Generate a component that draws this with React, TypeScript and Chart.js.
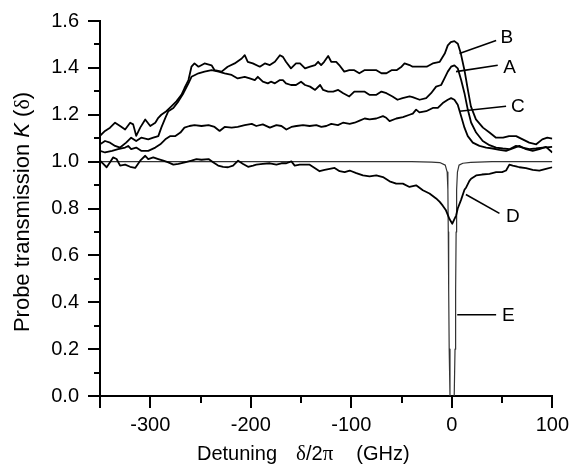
import React, { useEffect, useRef } from 'react';
import { Chart, registerables } from 'chart.js';

Chart.register(...registerables);

// ---- Curve B ----
const B_X = [-350, -345, -340, -335, -330, -325, -320, -317, -314, -310, -305, -300, -295, -292, -289, -284, -279, -274, -269, -266, -262, -259, -256, -252, -246, -239, -236, -229, -223, -216, -209, -206, -203, -198, -191, -186, -181, -176, -171, -168, -165, -160, -155, -151, -146, -141, -136, -133, -130, -127, -123, -120, -115, -112, -107, -102, -97, -92, -87, -82, -75, -70, -65, -60, -55, -50, -47, -42, -39, -32, -25, -19, -12, -7, -4, -1, 2.6, 6, 9, 12.6, 16, 19, 24, 31, 37.5, 44, 51, 57, 64, 70.5, 77, 84, 90, 95, 100];
const B_Y = [1.11, 1.131, 1.145, 1.166, 1.152, 1.137, 1.166, 1.159, 1.11, 1.145, 1.18, 1.152, 1.166, 1.187, 1.2, 1.215, 1.236, 1.257, 1.285, 1.313, 1.348, 1.405, 1.419, 1.405, 1.419, 1.411, 1.39, 1.384, 1.405, 1.419, 1.44, 1.454, 1.426, 1.419, 1.405, 1.419, 1.412, 1.426, 1.454, 1.447, 1.426, 1.398, 1.419, 1.419, 1.398, 1.405, 1.412, 1.426, 1.412, 1.426, 1.451, 1.426, 1.426, 1.412, 1.384, 1.39, 1.39, 1.377, 1.39, 1.39, 1.39, 1.377, 1.377, 1.39, 1.39, 1.405, 1.419, 1.412, 1.405, 1.405, 1.405, 1.419, 1.426, 1.461, 1.496, 1.51, 1.514, 1.503, 1.461, 1.39, 1.306, 1.236, 1.18, 1.145, 1.124, 1.102, 1.102, 1.109, 1.109, 1.095, 1.081, 1.074, 1.095, 1.102, 1.098];

// ---- Curve A ----
const A_X = [-350, -345, -340, -335, -330, -324, -319, -314, -309, -302, -297, -292, -289, -285, -282, -277, -272, -267, -262, -259, -252, -246, -239, -232, -226, -219, -213, -206, -201, -196, -193, -188, -183, -180, -176, -171, -168, -165, -160, -155, -150, -146, -141, -136, -131, -128, -123, -118, -113, -108, -102, -97, -92, -87, -82, -75, -70, -65, -59, -54, -49, -42, -39, -32, -25.5, -20.6, -15.6, -10.6, -7.3, -4, -0.7, 2.6, 5.9, 9.3, 12.6, 15.9, 19.2, 24.2, 30.8, 37.5, 44.1, 50.7, 57.3, 63.9, 70.5, 77.2, 83.8, 90.4, 100];
const A_Y = [1.074, 1.088, 1.081, 1.067, 1.06, 1.081, 1.102, 1.088, 1.102, 1.095, 1.102, 1.109, 1.145, 1.187, 1.215, 1.229, 1.257, 1.292, 1.334, 1.362, 1.377, 1.384, 1.39, 1.384, 1.377, 1.37, 1.355, 1.362, 1.355, 1.348, 1.362, 1.341, 1.334, 1.341, 1.334, 1.348, 1.348, 1.334, 1.327, 1.327, 1.341, 1.327, 1.32, 1.306, 1.327, 1.306, 1.299, 1.299, 1.306, 1.292, 1.278, 1.299, 1.299, 1.299, 1.285, 1.285, 1.299, 1.292, 1.278, 1.264, 1.271, 1.278, 1.275, 1.264, 1.271, 1.292, 1.32, 1.327, 1.355, 1.384, 1.405, 1.411, 1.398, 1.348, 1.292, 1.222, 1.167, 1.124, 1.088, 1.07, 1.06, 1.056, 1.053, 1.067, 1.06, 1.053, 1.056, 1.06, 1.063];

// ---- Curve C ----
const C_X = [-350, -345, -338, -332, -325, -322, -319, -314, -309, -302, -295, -290, -285, -280, -275, -270, -266, -261, -256, -249, -242, -236, -231, -226, -219, -213, -206, -199, -194.5, -188, -181, -174.5, -169.5, -164.6, -159.6, -154.6, -148, -141.4, -134.8, -129.8, -124.9, -119.9, -113.3, -108.3, -101.6, -96.7, -91.7, -86.7, -81.8, -75.1, -68.5, -65.2, -61.9, -55.2, -48.6, -42, -38.8, -35.5, -32.2, -25.5, -18.9, -13.9, -9, -4, -0.7, 2.6, 5.9, 9.3, 12.6, 15.9, 20.9, 27.5, 34.2, 40.8, 47.4, 54, 60.6, 67.2, 73.8, 80.5, 87.1, 93.7, 100];
const C_Y = [1.046, 1.039, 1.046, 1.053, 1.06, 1.067, 1.053, 1.06, 1.046, 1.046, 1.06, 1.074, 1.095, 1.109, 1.109, 1.124, 1.145, 1.152, 1.156, 1.152, 1.156, 1.148, 1.131, 1.148, 1.145, 1.148, 1.156, 1.161, 1.152, 1.159, 1.145, 1.156, 1.152, 1.137, 1.148, 1.152, 1.156, 1.152, 1.156, 1.148, 1.152, 1.161, 1.156, 1.166, 1.161, 1.166, 1.175, 1.184, 1.18, 1.184, 1.194, 1.187, 1.173, 1.184, 1.19, 1.2, 1.205, 1.222, 1.21, 1.215, 1.229, 1.229, 1.25, 1.264, 1.271, 1.264, 1.243, 1.194, 1.145, 1.109, 1.081, 1.067, 1.06, 1.056, 1.05, 1.046, 1.056, 1.067, 1.053, 1.046, 1.053, 1.063, 1.039];

// ---- Curve D ----
const D_X = [-350, -346.7, -343.4, -340, -337, -333.5, -330, -325, -320, -315, -310, -305, -302, -297, -292, -287, -282, -277, -272, -265.6, -259, -254, -249, -242, -237.5, -232.5, -227.5, -222.6, -217.6, -212.6, -207.6, -202.7, -197.7, -194.5, -188, -181, -174.5, -169.5, -164.6, -159.6, -156.3, -151.3, -146.4, -141.4, -136.4, -131.5, -126.5, -121.5, -116.6, -111.6, -106.6, -101.6, -95, -88.4, -81.8, -75.1, -68.5, -61.9, -55.3, -48.7, -42.1, -35.5, -28.8, -22.2, -15.6, -12, -9, -6, -2.3, 0.5, 2.6, 4.3, 5.9, 9.3, 12.6, 14.3, 17.5, 19.2, 24.2, 30, 37.5, 44.1, 50, 54, 57.3, 60.6, 64, 67.2, 73.8, 80.5, 87.1, 93.7, 100];
const D_Y = [1.004, 0.99, 0.976, 0.997, 1.018, 1.011, 0.983, 0.987, 0.978, 0.973, 1.004, 1.025, 1.011, 1.018, 1.011, 1.004, 0.997, 0.987, 0.99, 0.997, 1.004, 1.011, 1.008, 1.011, 0.997, 0.983, 0.978, 0.976, 0.983, 1.004, 0.99, 0.978, 0.983, 0.987, 0.99, 0.993, 0.987, 0.993, 0.993, 1.001, 0.983, 0.987, 0.987, 0.987, 0.973, 0.959, 0.965, 0.969, 0.973, 0.959, 0.955, 0.962, 0.951, 0.941, 0.937, 0.941, 0.934, 0.916, 0.906, 0.906, 0.892, 0.899, 0.878, 0.864, 0.843, 0.828, 0.812, 0.794, 0.755, 0.735, 0.755, 0.77, 0.8, 0.838, 0.88, 0.89, 0.918, 0.927, 0.941, 0.945, 0.948, 0.955, 0.955, 0.962, 0.987, 0.983, 0.98, 0.976, 0.972, 0.965, 0.962, 0.969, 0.976];

// ---- Curve E (narrow resonance, bottom runs past the axis) ----
const E_X = [-350, -40, -20, -12, -6.5, -4.6, -3.9, -3.5, -3.1, -2.6, -1.8, 0.3, 2.4, 3.2, 3.8, 4.3, 4.8, 5.6, 7.2, 11, 19, 40, 100];
const E_Y = [1.0, 1.0, 0.998, 0.996, 0.985, 0.955, 0.88, 0.7, 0.45, 0.2, 0.0, -0.3, 0.0, 0.2, 0.45, 0.7, 0.88, 0.955, 0.985, 0.993, 0.997, 1.0, 1.0];

// ---- Axes ----
const X_MAJOR = [-350, -300, -200, -100, 0, 100];
const X_MINOR = [-250, -150, -50, 50];
const Y_MAJOR = [0, 0.2, 0.4, 0.6, 0.8, 1.0, 1.2, 1.4, 1.6];
const Y_MINOR = [0.1, 0.3, 0.5, 0.7, 0.9, 1.1, 1.3, 1.5];

// ---- Curve labels and leader lines (data coordinates) ----
const LABEL_TEXT = ['B', 'A', 'C', 'D', 'E'];
const LABEL_X = [48.5, 51.3, 58.9, 54, 50];
const LABEL_Y = [1.537, 1.408, 1.239, 0.772, 0.351];
const LEAD_X0 = [7.6, 4.2, 7.6, 14, 5.4];
const LEAD_Y0 = [1.461, 1.384, 1.215, 0.86, 0.3465];
const LEAD_X1 = [44.1, 45.7, 54, 47.4, 44.1];
const LEAD_Y1 = [1.517, 1.411, 1.236, 0.779, 0.3465];

const SANS = 'Arial, "Liberation Sans", Helvetica, sans-serif';
const SERIF = '"Times New Roman", "Liberation Serif", Times, serif';

const pts = (xs: number[], ys: number[]) => xs.map((x, i) => ({ x, y: ys[i] }));

type Seg = { t: string; f: string };

function drawSegs(ctx: CanvasRenderingContext2D, segs: Seg[], x0: number, y0: number, gaps?: number[]) {
  let x = x0;
  segs.forEach((s, i) => {
    ctx.font = s.f;
    ctx.fillText(s.t, x, y0);
    x += ctx.measureText(s.t).width + (gaps ? gaps[i] || 0 : 0);
  });
}
function segsWidth(ctx: CanvasRenderingContext2D, segs: Seg[], gaps?: number[]) {
  let w = 0;
  segs.forEach((s, i) => {
    ctx.font = s.f;
    w += ctx.measureText(s.t).width + (gaps && i < segs.length - 1 ? gaps[i] || 0 : 0);
  });
  return w;
}

const decorPlugin = {
  id: 'decor',
  afterDraw(chart: any) {
    const { ctx, chartArea } = chart;
    const xs = chart.scales.x;
    const ys = chart.scales.y;
    ctx.save();
    ctx.strokeStyle = '#000';
    ctx.fillStyle = '#000';
    ctx.lineWidth = 2;
    // minor ticks
    X_MINOR.forEach((v) => {
      const px = Math.round(xs.getPixelForValue(v));
      ctx.beginPath();
      ctx.moveTo(px, chartArea.bottom);
      ctx.lineTo(px, chartArea.bottom + 7);
      ctx.stroke();
    });
    Y_MINOR.forEach((v) => {
      const py = Math.round(ys.getPixelForValue(v));
      ctx.beginPath();
      ctx.moveTo(chartArea.left, py);
      ctx.lineTo(chartArea.left - 6, py);
      ctx.stroke();
    });
    // leader lines
    ctx.lineWidth = 1.6;
    LABEL_TEXT.forEach((_, i) => {
      ctx.beginPath();
      ctx.moveTo(xs.getPixelForValue(LEAD_X0[i]), ys.getPixelForValue(LEAD_Y0[i]));
      ctx.lineTo(xs.getPixelForValue(LEAD_X1[i]), ys.getPixelForValue(LEAD_Y1[i]));
      ctx.stroke();
    });
    // curve labels
    const lf = 19;
    ctx.font = `${lf}px ${SANS}`;
    ctx.textBaseline = 'alphabetic';
    ctx.textAlign = 'left';
    LABEL_TEXT.forEach((t, i) => {
      ctx.fillText(t, xs.getPixelForValue(LABEL_X[i]), ys.getPixelForValue(LABEL_Y[i]) + 0.358 * lf);
    });
    // x title
    const xf = `20px ${SANS}`;
    const xsf = `21px ${SERIF}`;
    const xSegs: Seg[] = [
      { t: 'Detuning', f: xf },
      { t: 'δ', f: xsf },
      { t: '/2', f: xf },
      { t: 'π', f: xsf },
      { t: '(GHz)', f: xf },
    ];
    drawSegs(ctx, xSegs, chartArea.left + 97, chartArea.bottom + 64, [19, 0, 0, 23, 0]);
    // y title (rotated)
    const yf = `22px ${SANS}`;
    const yfi = `italic 22px ${SANS}`;
    const ysf = `22px ${SERIF}`;
    const ySegs: Seg[] = [
      { t: 'Probe transmission ', f: yf },
      { t: 'K', f: yfi },
      { t: ' (', f: yf },
      { t: 'δ', f: ysf },
      { t: ')', f: yf },
    ];
    const L = segsWidth(ctx, ySegs);
    const cy = (chartArea.top + chartArea.bottom) / 2 + 3.5;
    ctx.translate(chartArea.left - 71, cy);
    ctx.rotate(-Math.PI / 2);
    drawSegs(ctx, ySegs, -L / 2, 0);
    ctx.restore();
  },
};

export default function App() {
  const ref = useRef<HTMLCanvasElement>(null);
  useEffect(() => {
    document.body.style.margin = '0';
    const lineStyle = {
      borderColor: '#000',
      borderWidth: 1.8,
      pointRadius: 0,
      tension: 0,
      fill: false,
      borderJoinStyle: 'round' as const,
    };
    const chart = new Chart(ref.current as HTMLCanvasElement, {
      type: 'line',
      data: {
        datasets: [
          { label: 'B', data: pts(B_X, B_Y), ...lineStyle },
          { label: 'A', data: pts(A_X, A_Y), ...lineStyle },
          { label: 'C', data: pts(C_X, C_Y), ...lineStyle },
          { label: 'D', data: pts(D_X, D_Y), ...lineStyle },
          { label: 'E', data: pts(E_X, E_Y), ...lineStyle, borderColor: '#333', borderWidth: 1.2 },
        ],
      },
      options: {
        animation: false,
        responsive: false,
        devicePixelRatio: 1,
        layout: { padding: { top: 17, right: 21, bottom: 0, left: 0 } },
        plugins: { legend: { display: false }, tooltip: { enabled: false } },
        scales: {
          x: {
            type: 'linear',
            min: -350,
            max: 100,
            afterFit: (s: any) => { s.height = 75; },
            afterBuildTicks: (s: any) => { s.ticks = X_MAJOR.map((v) => ({ value: v })); },
            grid: { display: true, drawOnChartArea: false, drawTicks: true, tickLength: 12, tickColor: '#000', tickWidth: 2, color: '#000', lineWidth: 2 },
            border: { display: true, color: '#000', width: 2 },
            ticks: {
              autoSkip: false,
              maxRotation: 0,
              padding: 5,
              color: '#000',
              font: { family: SANS, size: 20 },
              callback: (v: any) => (v === -350 ? '' : String(v)),
            },
          },
          y: {
            type: 'linear',
            min: 0,
            max: 1.6,
            afterFit: (s: any) => { s.width = 100; },
            afterBuildTicks: (s: any) => { s.ticks = Y_MAJOR.map((v) => ({ value: v })); },
            grid: { display: true, drawOnChartArea: false, drawTicks: true, tickLength: 12, tickColor: '#000', tickWidth: 2, color: '#000', lineWidth: 2 },
            border: { display: true, color: '#000', width: 2 },
            ticks: {
              autoSkip: false,
              padding: 9,
              color: '#000',
              font: { family: SANS, size: 20 },
              callback: (v: any) => Number(v).toFixed(1),
            },
          },
        },
      },
      plugins: [decorPlugin],
    });
    return () => chart.destroy();
  }, []);
  return (
    <div style={{ width: 574, height: 471 }}>
      <canvas ref={ref} width={574} height={471} style={{ width: '574px', height: '471px', display: 'block' }} />
    </div>
  );
}
